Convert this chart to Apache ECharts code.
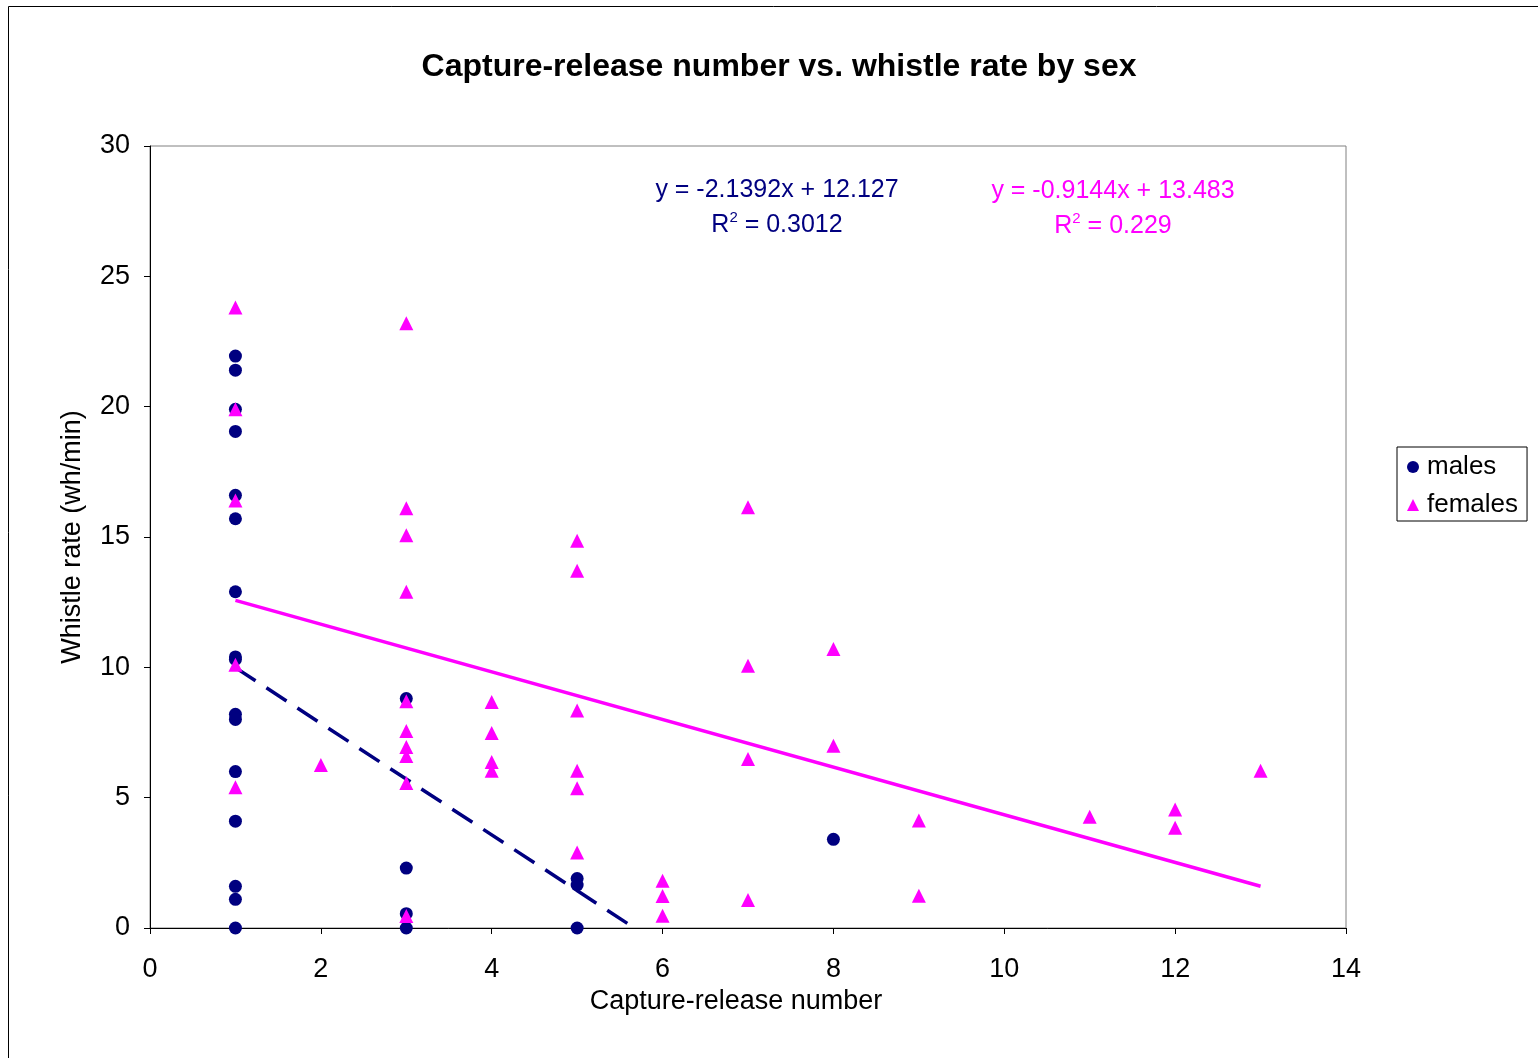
<!DOCTYPE html>
<html><head><meta charset="utf-8">
<script src="https://cdn.jsdelivr.net/npm/echarts@6/dist/echarts.min.js"></script>
<style>html,body{margin:0;padding:0;background:#fff}#c{width:1538px;height:1058px}</style>
</head><body><div id="c"></div>
<script>
const maleX = [1,1,1,1,1,1,1,1,1,1,1,1,1,1,1,1, 3,3,3,3, 5,5,5, 8];
const maleY = [21.94,21.4,19.9,19.05,16.6,15.7,12.9,10.4,10.3,8.2,8.0,6.0,4.1,1.6,1.1,0, 8.8,2.3,0.55,0, 1.9,1.65,0, 3.4];
const femaleX = [1,1,1,1,1, 2, 3,3,3,3,3,3,3,3,3,3, 4,4,4,4, 5,5,5,5,5,5, 6,6,6, 7,7,7,7, 8,8, 9,9, 11, 12,12, 13];
const femaleY = [23.8,19.9,16.4,10.1,5.4, 6.25, 23.2,16.1,15.07,12.9,8.7,7.56,6.94,6.6,5.56,0.46, 8.67,7.48,6.37,6.03, 14.86,13.71,8.34,6.03,5.36,2.9, 1.81,1.23,0.47, 16.14,10.06,6.48,1.07, 10.7,6.99, 4.12,1.24, 4.27, 4.55,3.85, 6.03];
const maleTrendX = [1, 5.67];
const maleTrendY = [9.99, 0];
const femaleTrendX = [1, 13];
const femaleTrendY = [12.57, 1.60];
const maleEq = ['y = -2.1392x + 12.127', 'R{s|2} = 0.3012'];
const femaleEq = ['y = -0.9144x + 13.483', 'R{s|2} = 0.229'];

const zip = (a,b) => a.map((v,i)=>[v,b[i]]);
const FONT = '"Liberation Sans", Arial, sans-serif';
const TXT = 27;
const supRich = (c) => ({s:{fontSize:15, verticalAlign:'top', fill:c, fontFamily:FONT, padding:[0,0,14,0]}});
const chart = echarts.init(document.getElementById('c'));
chart.setOption({
  animation:false,
  backgroundColor:'#fff',
  title:{text:'Capture-release number vs. whistle rate by sex', left:774, top:46, textAlign:'center',
    textStyle:{fontFamily:FONT, fontSize:32, fontWeight:'bold', color:'#000'}},
  grid:{left:150, top:146, width:1196, height:782, show:true, borderColor:'#808080', borderWidth:1, backgroundColor:'#fff'},
  xAxis:{type:'value', min:0, max:14, interval:2,
    name:'Capture-release number', nameLocation:'middle', nameGap:57,
    nameTextStyle:{fontFamily:FONT, fontSize:TXT, color:'#000', padding:[0,24,0,0]},
    axisLine:{show:true, lineStyle:{color:'#000'}},
    axisTick:{show:true, length:6, lineStyle:{color:'#000'}},
    axisLabel:{fontFamily:FONT, fontSize:TXT, color:'#000', margin:28},
    splitLine:{show:false}},
  yAxis:{type:'value', min:0, max:30, interval:5,
    name:'Whistle rate (wh/min)', nameLocation:'middle', nameGap:64, nameRotate:90,
    nameTextStyle:{fontFamily:FONT, fontSize:TXT, color:'#000'},
    axisLine:{show:true, lineStyle:{color:'#000'}},
    axisTick:{show:true, length:6, lineStyle:{color:'#000'}},
    axisLabel:{fontFamily:FONT, fontSize:TXT, color:'#000', margin:20},
    splitLine:{show:false}},
  legend:{data:[{name:'males', icon:'circle'},{name:'females', icon:'triangle'}],
    orient:'vertical', left:1397, top:447, padding:[7,9,3,10], itemGap:12,
    itemWidth:12, itemHeight:12, borderColor:'#000', borderWidth:1, backgroundColor:'#fff',
    textStyle:{fontFamily:FONT, fontSize:26, color:'#000', padding:[0,0,0,3]}},
  series:[
    {name:'femaleTrend', type:'line', data:zip(femaleTrendX,femaleTrendY), symbol:'none',
      lineStyle:{color:'#FF00FF', width:3.5}, z:2, silent:true},
    {name:'maleTrend', type:'line', data:zip(maleTrendX,maleTrendY), symbol:'none',
      lineStyle:{color:'#000080', width:3.5, type:[24,13]}, z:2, silent:true},
    {name:'males', type:'scatter', data:zip(maleX,maleY), symbol:'circle', symbolSize:13,
      itemStyle:{color:'#000080', opacity:1}, z:3},
    {name:'females', type:'scatter', data:zip(femaleX,femaleY), symbol:'triangle', symbolSize:14,
      itemStyle:{color:'#FF00FF', opacity:1}, z:4}
  ],
  graphic:[
    {type:'rect', shape:{x:8.5, y:6.5, width:1560, height:1080}, style:{fill:'none', stroke:'#000', lineWidth:1}, z:-1, silent:true},
    {type:'text', x:777, y:190, style:{text:maleEq[0], fill:'#000080', fontSize:25, fontFamily:FONT, align:'center', verticalAlign:'middle'}},
    {type:'text', x:777, y:225, style:{text:maleEq[1], fill:'#000080', fontSize:25, fontFamily:FONT, align:'center', verticalAlign:'middle', rich:supRich('#000080')}},
    {type:'text', x:1113, y:191, style:{text:femaleEq[0], fill:'#FF00FF', fontSize:25, fontFamily:FONT, align:'center', verticalAlign:'middle'}},
    {type:'text', x:1113, y:226, style:{text:femaleEq[1], fill:'#FF00FF', fontSize:25, fontFamily:FONT, align:'center', verticalAlign:'middle', rich:supRich('#FF00FF')}}
  ]
});
</script></body></html>
